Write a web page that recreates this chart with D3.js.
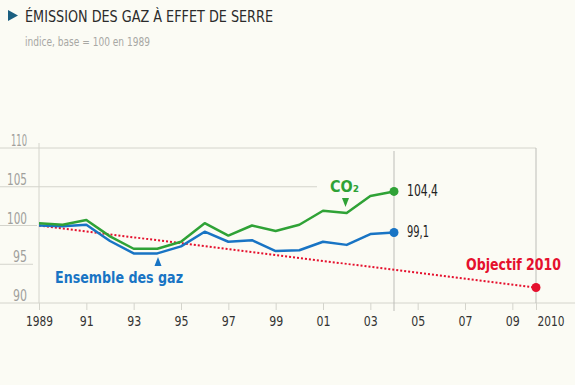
<!DOCTYPE html>
<head>
<meta charset="utf-8">
<script src="https://d3js.org/d3.v7.min.js"></script>
<style type="text/css">
	body { margin: 0; background: #fbfbf4; }
	svg { display: block; font-family: "DejaVu Sans Condensed", "Liberation Sans Narrow", sans-serif; }
</style>
</head>
<body>
<div id="chart"></div>
</body>
<script>

	var width = 575;
	var height = 385;

	// data
	var years = [1989, 1990, 1991, 1992, 1993, 1994, 1995, 1996, 1997, 1998, 1999, 2000, 2001, 2002, 2003, 2004];
	var co2 = [100.3, 100.1, 100.7, 98.6, 97.0, 97.0, 97.9, 100.3, 98.7, 100.0, 99.3, 100.1, 101.9, 101.6, 103.8, 104.4];
	var ensemble = [100.0, 99.9, 100.1, 98.0, 96.4, 96.4, 97.3, 99.2, 97.9, 98.1, 96.7, 96.8, 97.9, 97.5, 98.9, 99.1];
	var objectifYears = [1989, 2010];
	var objectifValues = [100, 92];
	var yTicks = [90, 95, 100, 105, 110];
	var xTicks = [1989, 1991, 1993, 1995, 1997, 1999, 2001, 2003, 2005, 2007, 2009, 2010];

	var green = "#2fa236";
	var blue = "#1874c4";
	var red = "#e5102d";
	var grid = "#d4d4cc";

	var svg = d3.select("#chart").append("svg")
		.attr("width", width)
		.attr("height", height);

	var x = d3.scaleLinear()
		.domain([1989, 2010])
		.range([39, 536]);

	var y = d3.scaleLinear()
		.domain([90, 110])
		.range([303, 148]);

	// the original font is narrow, so squeeze text to its measured width
	function squeeze(sel, w) {
		sel.attr("textLength", w).attr("lengthAdjust", "spacingAndGlyphs");
	}

	// title
	svg.append("path")
		.attr("d", "M8,10 L18,15.5 L8,21 Z")
		.attr("fill", "#1b5f80");
	svg.append("text")
		.attr("x", 25).attr("y", 22)
		.attr("font-size", 15.5)
		.attr("fill", "#2b2b2b")
		.text("ÉMISSION DES GAZ À EFFET DE SERRE")
		.call(squeeze, 248);
	svg.append("text")
		.attr("x", 25).attr("y", 46)
		.attr("font-size", 12)
		.attr("fill", "#a8a8a4")
		.text("indice, base = 100 en 1989")
		.call(squeeze, 125);

	// horizontal gridlines (some are cut short, like in the original)
	var gridEnd = { 90: 575, 95: 33, 100: 37, 105: 317, 110: 536 };
	svg.selectAll(".hgrid")
		.data(yTicks)
		.enter().append("line")
		.attr("class", "hgrid")
		.attr("x1", 0)
		.attr("x2", d => gridEnd[d])
		.attr("y1", d => y(d))
		.attr("y2", d => y(d))
		.attr("stroke", grid)
		.attr("stroke-width", 1);

	svg.selectAll(".ylab")
		.data(yTicks)
		.enter().append("text")
		.attr("class", "ylab")
		.attr("x", 27)
		.attr("y", d => y(d) - 2)
		.attr("text-anchor", "end")
		.attr("font-size", 15)
		.attr("fill", "#a0a09c")
		.text(d => d)
		.each(function(d) {
			d3.select(this).call(squeeze, d == 110 ? 16 : (d >= 100 ? 20 : 14));
		});

	// vertical lines
	svg.append("line")
		.attr("x1", x(1989)).attr("x2", x(1989))
		.attr("y1", 143).attr("y2", y(90))
		.attr("stroke", grid);
	svg.append("line")
		.attr("x1", x(2004)).attr("x2", x(2004))
		.attr("y1", 151).attr("y2", y(90) + 8)
		.attr("stroke", "#bdbdb8");
	svg.append("line")
		.attr("x1", x(2010)).attr("x2", x(2010))
		.attr("y1", y(110)).attr("y2", y(90))
		.attr("stroke", "#bdbdb8");

	// x axis
	var xAxis = svg.append("g")
		.attr("transform", "translate(0," + y(90) + ")")
		.call(d3.axisBottom(x)
			.tickValues(xTicks)
			.tickSize(7)
			.tickPadding(6)
			.tickFormat(d => (d == 1989 || d == 2010) ? String(d) : String(d).slice(2)));
	xAxis.select(".domain").remove();
	xAxis.selectAll(".tick line").attr("stroke", grid);
	xAxis.selectAll(".tick text")
		.attr("font-family", "\"DejaVu Sans Condensed\", sans-serif")
		.attr("font-size", 14)
		.attr("fill", "#333")
		.each(function(d) {
			var t = d3.select(this).call(squeeze, (d == 1989 || d == 2010) ? 27 : 14);
			if (d == 2010) t.attr("text-anchor", "start").attr("x", 1);
		});

	// lines
	var line = d3.line()
		.x(d => x(d[0]))
		.y(d => y(d[1]));

	svg.append("path")
		.datum(d3.zip(objectifYears, objectifValues))
		.attr("d", line)
		.attr("fill", "none")
		.attr("stroke", red)
		.attr("stroke-width", 2)
		.attr("stroke-dasharray", "2,2");

	svg.append("path")
		.datum(d3.zip(years, ensemble))
		.attr("d", line)
		.attr("fill", "none")
		.attr("stroke", blue)
		.attr("stroke-width", 2.5)
		.attr("stroke-linejoin", "round");

	svg.append("path")
		.datum(d3.zip(years, co2))
		.attr("d", line)
		.attr("fill", "none")
		.attr("stroke", green)
		.attr("stroke-width", 2.5)
		.attr("stroke-linejoin", "round");

	// end points
	var last = years.length - 1;
	svg.append("circle")
		.attr("cx", x(years[last])).attr("cy", y(co2[last]))
		.attr("r", 4.5).attr("fill", green);
	svg.append("circle")
		.attr("cx", x(years[last])).attr("cy", y(ensemble[last]))
		.attr("r", 4.5).attr("fill", blue);
	svg.append("circle")
		.attr("cx", x(objectifYears[1])).attr("cy", y(objectifValues[1]))
		.attr("r", 4.5).attr("fill", red);

	svg.append("text")
		.attr("x", x(2004) + 13).attr("y", y(co2[last]) + 5)
		.attr("font-size", 15).attr("fill", "#222")
		.text("104,4")
		.call(squeeze, 31);
	svg.append("text")
		.attr("x", x(2004) + 13).attr("y", y(ensemble[last]) + 5)
		.attr("font-size", 15).attr("fill", "#222")
		.text("99,1")
		.call(squeeze, 22);

	// labels
	svg.append("text")
		.attr("x", 330).attr("y", 192)
		.attr("font-size", 16).attr("font-weight", "bold")
		.attr("fill", green)
		.text("CO₂")
		.call(squeeze, 29);
	svg.append("path")
		.attr("d", "M342,198 L349,198 L345.5,207 Z")
		.attr("fill", green);

	svg.append("text")
		.attr("x", 55).attr("y", 283)
		.attr("font-size", 16).attr("font-weight", "bold")
		.attr("fill", blue)
		.text("Ensemble des gaz")
		.call(squeeze, 128);
	svg.append("path")
		.attr("d", "M154.5,266 L161.5,266 L158,257 Z")
		.attr("fill", blue);

	svg.append("text")
		.attr("x", 466).attr("y", 270)
		.attr("font-size", 16).attr("font-weight", "bold")
		.attr("fill", red)
		.text("Objectif 2010")
		.call(squeeze, 95);

</script>
